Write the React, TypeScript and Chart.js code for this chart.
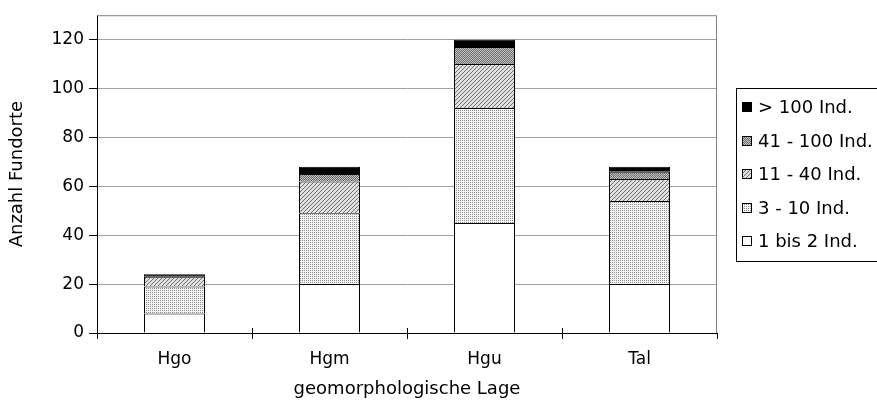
import React, { useEffect, useRef } from 'react';
import { Chart, registerables } from 'chart.js';

Chart.register(...registerables);

const categories = ['Hgo', 'Hgm', 'Hgu', 'Tal'];
const seriesLabels = ['1 bis 2 Ind.', '3 - 10 Ind.', '11 - 40 Ind.', '41 - 100 Ind.', '> 100 Ind.'];
const ind1to2 = [8, 20, 45, 20];
const ind3to10 = [11, 29, 47, 34];
const ind11to40 = [4, 13, 18, 9];
const ind41to100 = [0, 3, 7, 3];
const indOver100 = [1, 3, 3, 2];
const yTickValues = [0, 20, 40, 60, 80, 100, 120];
const yMax = 130;
const xTitle = 'geomorphologische Lage';
const yTitle = 'Anzahl Fundorte';

const FONT = 'DejaVu Sans';

function makePattern(size: number, draw: (g: CanvasRenderingContext2D) => void) {
  const c = document.createElement('canvas');
  c.width = size;
  c.height = size;
  const g = c.getContext('2d') as CanvasRenderingContext2D;
  draw(g);
  return g.createPattern(c, 'repeat') as CanvasPattern;
}

function buildFills() {
  const dots = makePattern(4, (g) => {
    g.fillStyle = '#f4f4f4';
    g.fillRect(0, 0, 4, 4);
    g.fillStyle = '#909090';
    [[0, 0], [2, 0], [0, 2], [2, 2]].forEach(([x, y]) => g.fillRect(x, y, 1, 1));
  });
  const hatch = makePattern(4, (g) => {
    g.fillStyle = '#e0e0e0';
    g.fillRect(0, 0, 4, 4);
    g.fillStyle = '#707070';
    [[3, 0], [2, 1], [1, 2], [0, 3]].forEach(([x, y]) => g.fillRect(x, y, 1, 1));
  });
  const checker = makePattern(2, (g) => {
    g.fillStyle = '#c0c0c0';
    g.fillRect(0, 0, 2, 2);
    g.fillStyle = '#707070';
    g.fillRect(1, 0, 1, 1);
    g.fillRect(0, 1, 1, 1);
  });
  return ['#ffffff', dots, hatch, checker, '#000000'];
}

const frameAndLegend = {
  id: 'frameAndLegend',
  afterDatasetsDraw(chart: any) {
    const { ctx, chartArea } = chart;
    ctx.save();
    ctx.strokeStyle = '#808080';
    ctx.lineWidth = 1;
    ctx.beginPath();
    ctx.moveTo(chartArea.left, chartArea.top + 0.5);
    ctx.lineTo(chartArea.right - 0.5, chartArea.top + 0.5);
    ctx.lineTo(chartArea.right - 0.5, chartArea.bottom);
    ctx.stroke();
    const xs = chart.scales.x;
    const n = categories.length;
    ctx.strokeStyle = '#000';
    ctx.beginPath();
    for (let i = 1; i < n; i++) {
      const px = Math.round(xs.left + ((xs.right - xs.left) * i) / n) + 0.5;
      ctx.moveTo(px, chartArea.bottom - 5);
      ctx.lineTo(px, chartArea.bottom);
    }
    ctx.stroke();
    ctx.restore();
  },
  afterDraw(chart: any) {
    const { ctx } = chart;
    const ds = chart.data.datasets;
    ctx.save();
    const left = 736.5;
    const top = 88.5;
    const bottom = 261.5;
    ctx.fillStyle = '#fff';
    ctx.fillRect(left, top, 200, bottom - top);
    ctx.strokeStyle = '#000';
    ctx.lineWidth = 1;
    ctx.strokeRect(left, top, 200, bottom - top);
    ctx.font = `18px "${FONT}"`;
    ctx.textBaseline = 'middle';
    ctx.textAlign = 'left';
    const first = 107;
    const step = 33.6;
    for (let i = 0; i < ds.length; i++) {
      const d = ds[ds.length - 1 - i];
      const cy = Math.round(first + i * step);
      ctx.fillStyle = d.backgroundColor;
      ctx.fillRect(742, cy - 5, 10, 10);
      ctx.strokeStyle = '#000';
      ctx.strokeRect(742.5, cy - 4.5, 9, 9);
      ctx.fillStyle = '#000';
      ctx.fillText(d.label, 758, cy + 1);
    }
    ctx.restore();
  },
};

export default function App() {
  const ref = useRef<HTMLCanvasElement | null>(null);

  useEffect(() => {
    const canvas = ref.current;
    if (!canvas) return;
    const fills = buildFills();
    const values = [ind1to2, ind3to10, ind11to40, ind41to100, indOver100];
    const tickFont = { family: FONT, size: 17 };
    const titleFont = { family: FONT, size: 18 };
    const chart = new Chart(canvas, {
      type: 'bar',
      data: {
        labels: categories,
        datasets: values.map((v, i) => ({
          label: seriesLabels[i],
          data: v,
          backgroundColor: fills[i] as any,
          borderColor: '#000',
          borderWidth: { top: 1, left: 1, right: 1, bottom: 0 },
          borderSkipped: false,
          barPercentage: 61 / 155,
          categoryPercentage: 1,
        })),
      },
      options: {
        animation: false,
        responsive: false,
        devicePixelRatio: 1,
        layout: { padding: { left: 0, right: 160, top: 12, bottom: 0 } },
        plugins: { legend: { display: false }, tooltip: { enabled: false } },
        scales: {
          x: {
            stacked: true,
            offset: true,
            grid: {
              display: true,
              offset: true,
              drawOnChartArea: false,
              tickLength: 6,
              color: '#000',
              tickColor: '#000',
            },
            border: { color: '#000', width: 1 },
            ticks: { color: '#000', font: tickFont, padding: 10 },
            title: {
              display: true,
              text: xTitle,
              color: '#000',
              font: titleFont,
              padding: { top: 0, bottom: 12 },
            },
            afterFit: (s: any) => {
              s.height = 79;
            },
          },
          y: {
            stacked: true,
            min: 0,
            max: yMax,
            afterBuildTicks: (s: any) => {
              s.ticks = yTickValues.map((v) => ({ value: v }));
            },
            grid: { color: '#a0a0a0', tickColor: '#000', tickLength: 8 },
            border: { color: '#000', width: 1 },
            ticks: { color: '#000', font: tickFont, padding: 5 },
            title: {
              display: true,
              text: yTitle,
              color: '#000',
              font: titleFont,
              padding: { top: 7, bottom: 0 },
            },
            afterFit: (s: any) => {
              s.width = 97;
            },
          },
        },
      },
      plugins: [frameAndLegend],
    });
    return () => chart.destroy();
  }, []);

  return (
    <div style={{ position: 'absolute', left: 0, top: 0, width: 877, height: 412, background: '#fff' }}>
      <canvas ref={ref} width={877} height={412} />
    </div>
  );
}
